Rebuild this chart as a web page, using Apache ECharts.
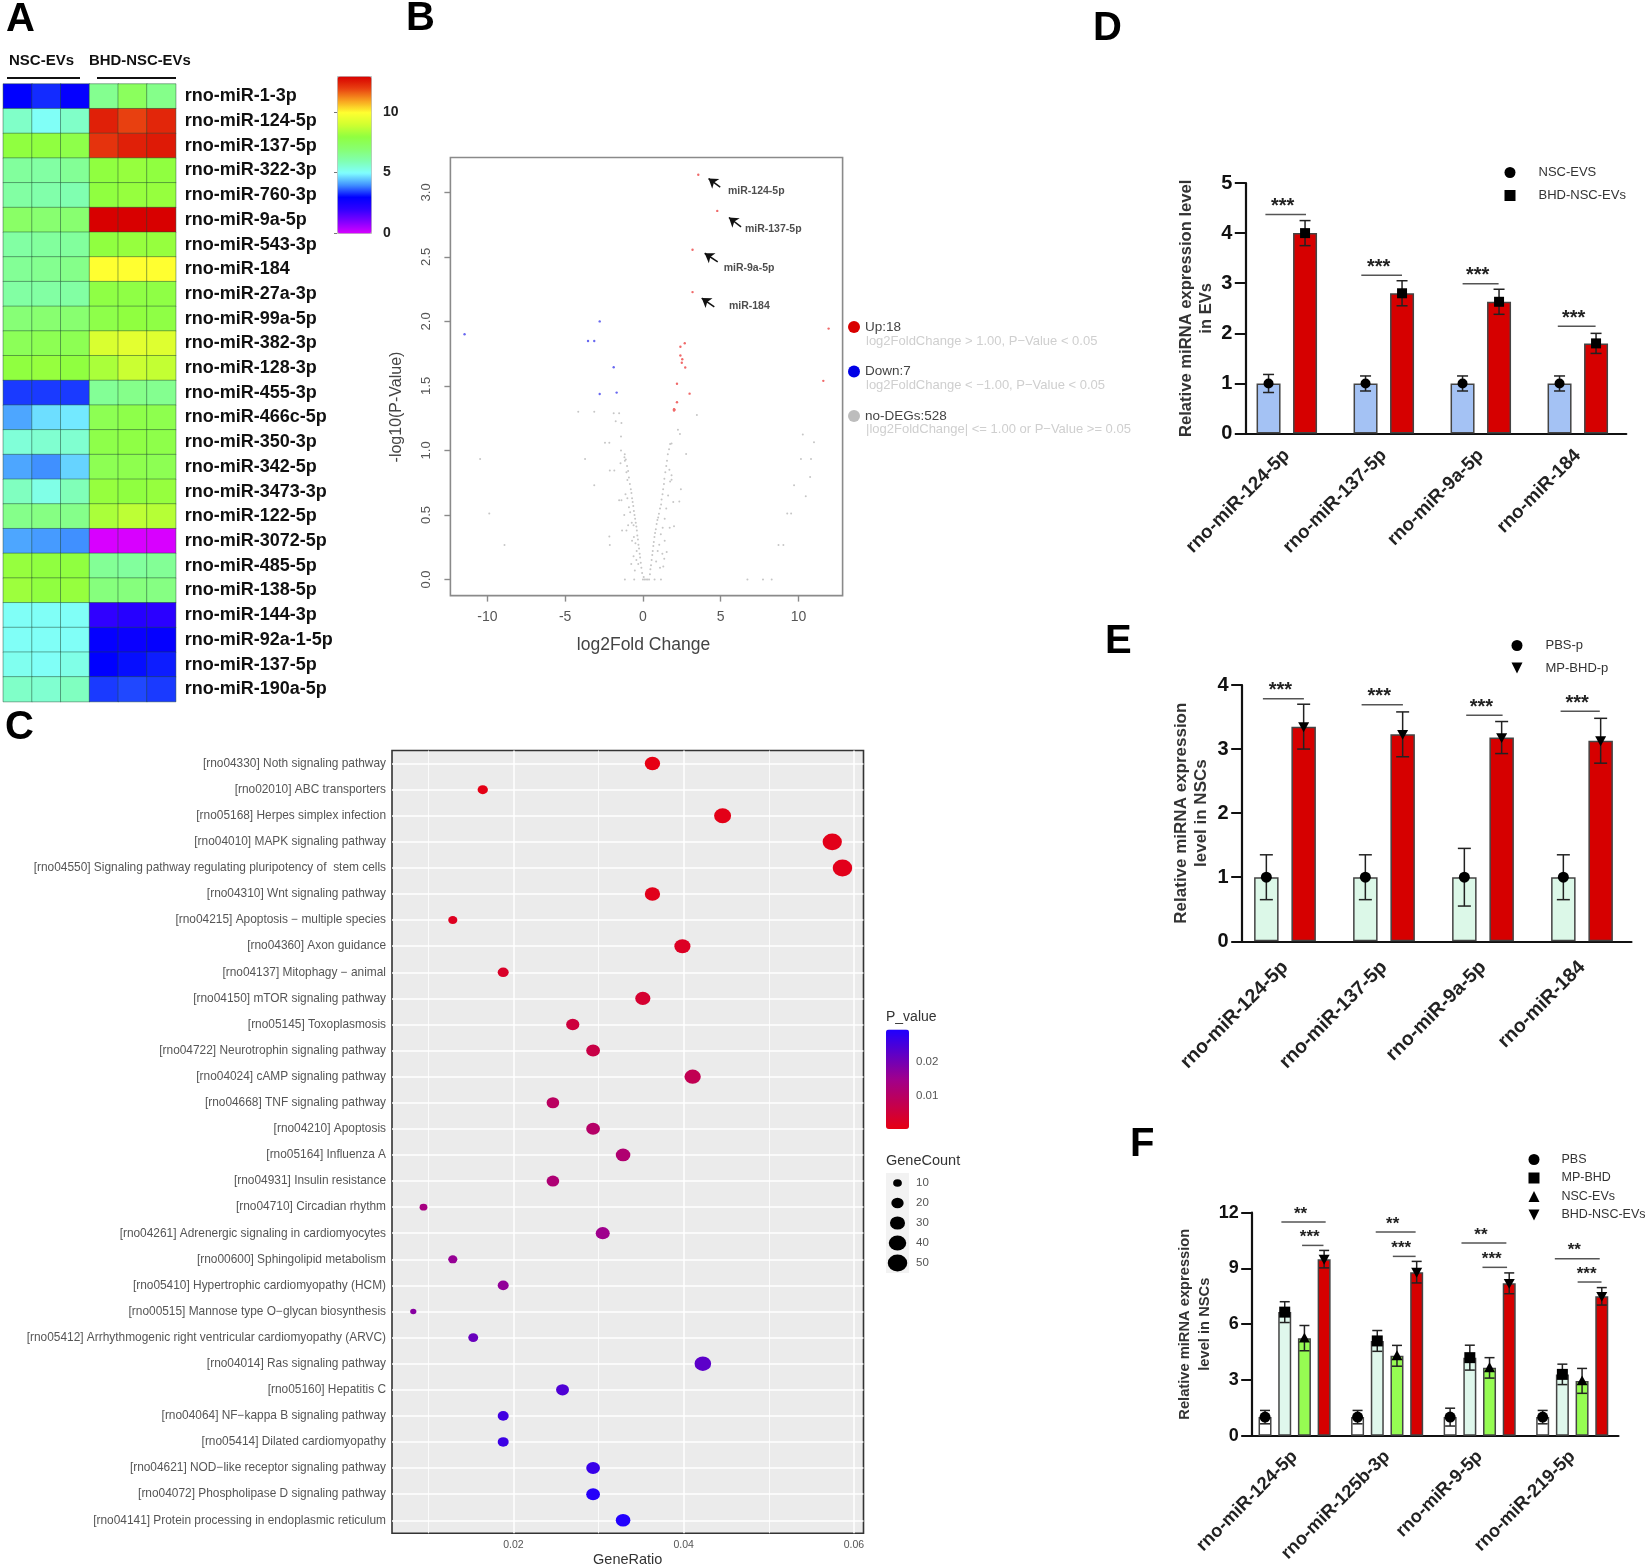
<!DOCTYPE html>
<html><head><meta charset="utf-8">
<script src="https://cdn.jsdelivr.net/npm/echarts@6/dist/echarts.min.js"></script>
<style>html,body{margin:0;padding:0;background:#fff}#c{width:1649px;height:1568px}</style>
</head><body><div id="c"></div>
<script>
/* ---------- Panel A data ---------- */
const heatRows=['rno-miR-1-3p','rno-miR-124-5p','rno-miR-137-5p','rno-miR-322-3p','rno-miR-760-3p','rno-miR-9a-5p','rno-miR-543-3p','rno-miR-184','rno-miR-27a-3p','rno-miR-99a-5p','rno-miR-382-3p','rno-miR-128-3p','rno-miR-455-3p','rno-miR-466c-5p','rno-miR-350-3p','rno-miR-342-5p','rno-miR-3473-3p','rno-miR-122-5p','rno-miR-3072-5p','rno-miR-485-5p','rno-miR-138-5p','rno-miR-144-3p','rno-miR-92a-1-5p','rno-miR-137-5p','rno-miR-190a-5p'];
const heatCols=['N1','N2','N3','B1','B2','B3'];
const heatValues=[
[3.0,3.3,2.9,6.5,7.4,6.6],[5.7,5.1,5.7,12.5,12.0,12.4],[8.0,8.0,7.8,12.2,12.5,12.6],[6.3,6.2,6.4,8.0,8.1,8.0],[6.2,6.1,6.0,8.0,8.1,8.1],
[7.2,7.0,7.0,13,13,13],[6.2,6.3,6.3,8.0,8.1,8.1],[6.4,6.5,6.6,10,10,10],[6.2,6.2,6.2,7.9,7.9,7.9],[6.9,7.0,7.0,7.8,8.0,7.9],
[7.5,7.6,7.6,9.2,9.4,9.3],[8.0,8.1,8.0,8.4,8.9,8.8],[3.4,3.4,3.4,6.4,6.6,6.5],[4.2,4.7,4.8,7.6,7.8,7.7],[5.5,5.6,5.6,7.8,7.9,7.8],
[4.2,4.0,4.6,7.6,7.7,7.6],[5.8,5.3,5.9,8.1,8.0,8.1],[6.6,6.7,6.6,8.4,8.7,8.6],[4.2,4.1,4.0,0,0,0],[8.1,8.0,8.0,6.4,6.3,6.4],
[8.2,8.0,8.1,6.8,6.8,6.7],[5.1,5.1,5.1,2.0,2.2,2.1],[5.1,5.1,5.1,2.9,2.8,2.9],[5.2,5.1,5.3,3.0,3.1,3.2],[5.7,5.6,5.8,3.4,3.5,3.4]];
const heatColors=['#d800ff','#8000ff','#3000ff','#0000ff','#4090ff','#80ffff','#80ffb0','#88ff70','#90ff40','#d0ff30','#ffff30','#f8a020','#e84010','#d80000'];

/* ---------- Panel B data ---------- */
const upPoints=[[3.56,3.136],[4.78,2.856],[3.19,2.555],[3.19,2.227],[11.94,1.944],[2.69,1.83],[2.41,1.803],[2.41,1.736],[2.53,1.707],[2.5,1.68],[2.72,1.643],[11.6,1.539],[2.19,1.517],[3.0,1.44],[2.19,1.373],[2.0,1.32],[2.03,1.315],[2.0,1.309]];
const downPoints=[[-2.78,2.0],[-11.47,1.9],[-3.53,1.848],[-3.13,1.848],[-1.88,1.645],[-1.69,1.448],[-2.78,1.437]];
const grayPoints=[[-4.16,1.3],[-3.13,1.3],[-1.88,1.288],[-1.53,1.288],[3.47,1.275],[-1.75,1.227],[-1.38,1.213],[2.25,1.16],[2.38,1.128],[-1.41,1.107],[-2.44,1.059],[-2.16,1.059],[1.84,1.053],[10.28,1.123],[11,1.064],[2.78,0.973],[-10.47,.933],[-3.72,.933],[10.16,.933],[10.81,.933],[-1.41,1.0],[-1.19,.947],[-1.16,.92],[-1.44,.9],[-2.13,.845],[-1.84,.845],[-1.06,.83],[1.84,.808],[10.75,.795],[-1.0,.77],[1.84,.773],[-3.13,.731],[9.72,.731],[2.44,.7],[10.47,.645],[-1.53,.613],[-1.38,.613],[2.34,.605],[-9.88,.512],[9.28,.512],[9.53,.512],[-1.34,.379],[-1.06,.379],[2,.413],[1.72,.4],[-2.16,.333],[-2.13,.267],[-8.9,.267],[8.72,.267],[9.03,.267],[1.31,.1],[1.37,.16],[1.53,.213],[-1.16,0],[-.56,0],[.75,0],[1.16,0],[6.72,0],[7.72,0],[8.28,0],[0,0],[.1,0],[.2,0],[.3,0],[.4,0],[.05,.02],[-.05,.05],[-.1,.09],[-.14,.13],[-.18,.17],[-.21,.2],[-.25,.24],[-.29,.27],[-.32,.31],[-.36,.34],[-.39,.38],[-.42,.41],[-.46,.44],[-.5,.47],[-.54,.5],[-.58,.53],[-.62,.57],[-.66,.6],[-.7,.63],[-.74,.67],[-.78,.7],[-.84,.74],[-.9,.79],[-.95,.84],[-1.02,.88],[-1.1,.93],[-1.17,.97],[-.6,.42],[-.72,.44],[-.82,.52],[-.9,.56],[-1.0,.63],[-1.12,.66],[-.4,.22],[-.48,.28],[-.58,.33],[-.7,.3],[-.95,.42],[-1.2,.5],[-.3,.12],[-.42,.15],[-.6,.18],[-.75,.12],[-.52,.07],[.45,.04],[.48,.08],[.52,.11],[.56,.15],[.6,.19],[.63,.22],[.67,.26],[.7,.29],[.74,.33],[.78,.36],[.83,.39],[.88,.43],[.93,.46],[.98,.48],[1.03,.51],[1.1,.55],[1.17,.58],[1.2,.62],[1.26,.66],[1.3,.7],[1.35,.74],[1.38,.78],[1.44,.83],[1.5,.88],[1.55,.92],[1.6,.97],[1.68,1.01],[1.75,1.05],[.85,.14],[.95,.22],[1.05,.27],[1.15,.35],[1.27,.4],[1.4,.47],[1.5,.55],[1.62,.65],[1.75,.76],[1.95,.6],[1.1,.09],[1.25,.2],[1.4,.3],[1.7,.85]];
const bArrows=[[[4.97,3.04],[4.22,3.107]],[[6.31,2.733],[5.53,2.805]],[[4.81,2.461],[3.97,2.528]],[[4.59,2.112],[3.78,2.181]]];
const bLabels=[['miR-124-5p',5.47,3.01],['miR-137-5p',6.56,2.715],['miR-9a-5p',5.19,2.416],['miR-184',5.53,2.12]];

/* ---------- Panel C data ---------- */
const pathways=['[rno04330] Noth signaling pathway','[rno02010] ABC transporters','[rno05168] Herpes simplex infection','[rno04010] MAPK signaling pathway','[rno04550] Signaling pathway regulating pluripotency of  stem cells','[rno04310] Wnt signaling pathway','[rno04215] Apoptosis \u2212 multiple species','[rno04360] Axon guidance','[rno04137] Mitophagy \u2212 animal','[rno04150] mTOR signaling pathway','[rno05145] Toxoplasmosis','[rno04722] Neurotrophin signaling pathway','[rno04024] cAMP signaling pathway','[rno04668] TNF signaling pathway','[rno04210] Apoptosis','[rno05164] Influenza A','[rno04931] Insulin resistance','[rno04710] Circadian rhythm','[rno04261] Adrenergic signaling in cardiomyocytes','[rno00600] Sphingolipid metabolism','[rno05410] Hypertrophic cardiomyopathy (HCM)','[rno00515] Mannose type O\u2212glycan biosynthesis','[rno05412] Arrhythmogenic right ventricular cardiomyopathy (ARVC)','[rno04014] Ras signaling pathway','[rno05160] Hepatitis C','[rno04064] NF\u2212kappa B signaling pathway','[rno05414] Dilated cardiomyopathy','[rno04621] NOD\u2212like receptor signaling pathway','[rno04072] Phospholipase D signaling pathway','[rno04141] Protein processing in endoplasmic reticulum'];
const geneRatio=[.03633,.0164,.04457,.05745,.05865,.03633,.01288,.03985,.0188,.0352,.02697,.02936,.04105,.02464,.02936,.03288,.02464,.00944,.03049,.01288,.0188,.00824,.01528,.04225,.02577,.0188,.0188,.02936,.02936,.03288];
const geneCount=[31,14,38,49,50,31,11,34,16,30,23,25,35,21,25,28,21,8,26,11,16,5,13,36,22,16,16,25,25,28];
const pValue=[.0005,.0008,.001,.0012,.0013,.0015,.002,.0025,.003,.004,.0055,.0065,.008,.0095,.0105,.0115,.012,.0135,.015,.016,.0165,.0175,.021,.0225,.024,.0255,.026,.0265,.0285,.029];
const geneCountLegend=[10,20,30,40,50];

/* ---------- Panel D data ---------- */
const dCats=['rno-miR-124-5p','rno-miR-137-5p','rno-miR-9a-5p','rno-miR-184'];
const dNSC=[1,1,1,1], dNSCErr=[.18,.15,.15,.15];
const dBHD=[4.0,2.8,2.63,1.8], dBHDErr=[.25,.25,.25,.2];
const dSigY=[4.37,3.16,2.99,2.14];
/* ---------- Panel E data ---------- */
const eCats=['rno-miR-124-5p','rno-miR-137-5p','rno-miR-9a-5p','rno-miR-184'];
const ePBS=[1,1,1,1], ePBSErr=[.35,.35,.45,.35];
const eMP=[3.35,3.23,3.18,3.13], eMPErr=[.35,.35,.25,.35];
const eSigY=[3.786,3.69,3.526,3.59];
/* ---------- Panel F data ---------- */
const fCats=['rno-miR-124-5p','rno-miR-125b-3p','rno-miR-9-5p','rno-miR-219-5p'];
const fPBS=[1,1,1,1], fPBSErr=[.36,.36,.48,.36];
const fMP=[6.65,5.1,4.2,3.3], fMPErr=[.56,.56,.67,.55];
const fNSC=[5.25,4.3,3.65,2.95], fNSCErr=[.68,.56,.55,.67];
const fBHD=[9.5,8.8,8.2,7.5], fBHDErr=[.47,.58,.56,.47];
const fSigTopY=[11.5,10.96,10.37,9.52], fSigLowY=[10.24,9.65,9.06,8.27];

/* ---------- layout of significance brackets (pixels from tick) ---------- */
const dSpan=[[-21.4,19.2],[-22.5,18.2],[-18.2,17.8],[-20,17.8]];
const eSpan=[[-22.1,18.9],[-22.4,18.9],[-16.8,19.6],[-21.4,17.8]];
const fSpanTop=[[-13.2,31.1],[-11.4,28.5],[-18.2,26.7],[-17.4,27.5]];
const fSpanLow=[[7.5,28.9],[5.7,28.5],[2.8,27.4],[5.4,29.3]];

const FONT='"Liberation Sans", Arial, sans-serif';
const opt={animation:false,backgroundColor:'#fff',textStyle:{fontFamily:FONT},
  grid:[],xAxis:[],yAxis:[],series:[],visualMap:[],legend:[],graphic:{elements:[]}};
const G=opt.graphic.elements;
function addGrid(g,x,y){const i=opt.grid.length;opt.grid.push(Object.assign({outerBoundsMode:'none',containLabel:false},g));
  opt.xAxis.push(Object.assign({gridIndex:i},x));opt.yAxis.push(Object.assign({gridIndex:i},y));return i;}
function txt(text,x,y,font,fill,extra){G.push(Object.assign({type:'text',x,y,silent:true,style:{text,font:font+' '+FONT,fill,align:(extra&&extra.align)||'left',verticalAlign:'middle'}},extra&&extra.rotation!=null?{rotation:extra.rotation}:{}));}
function ln(x1,y1,x2,y2,stroke,w){G.push({type:'line',silent:true,shape:{x1,y1,x2,y2},style:{stroke,lineWidth:w}});}

/* panel letters */
txt('A',6,20,'bold 40px','#000');txt('B',406,19,'bold 40px','#000');txt('C',5,728,'bold 40px','#000');
txt('D',1093,29,'bold 40px','#000');txt('E',1105,642,'bold 40px','#000');txt('F',1130,1145,'bold 40px','#000');

/* ---------- A ---------- */
txt('NSC-EVs',9,61,'bold 15px','#111');txt('BHD-NSC-EVs',89,61,'bold 14.9px','#111');
ln(7,78,80,78,'#111',2);ln(97,78,176,78,'#111',2);
let a=addGrid({left:3.3,top:84,width:172.4,height:617.6},
 {type:'category',data:heatCols,show:false},
 {type:'category',data:heatRows,inverse:true,position:'right',axisLine:{show:false},
  axisTick:{alignWithLabel:true,length:4,lineStyle:{color:'#888'}},
  axisLabel:{interval:0,margin:9,fontWeight:'bold',fontSize:18,color:'#111'}});
const heatData=[];heatValues.forEach((r,ri)=>r.forEach((v,ci)=>heatData.push([ci,ri,v])));
opt.series.push({type:'heatmap',name:'expr',xAxisIndex:a,yAxisIndex:a,data:heatData,silent:true,
  itemStyle:{borderColor:'rgba(30,70,50,0.45)',borderWidth:1}});
opt.visualMap.push({type:'continuous',seriesIndex:opt.series.length-1,min:0,max:13,left:337,top:76,itemWidth:34,itemHeight:157,padding:0,
  calculable:false,hoverLink:false,inRange:{color:heatColors},borderColor:'#bbb',borderWidth:1,textStyle:{fontSize:0},text:null,realtime:false});
const heatTicks=[0,5,10];
addGrid({left:337,top:76,width:34,height:157},{type:'value',min:0,max:1,show:false},
 {type:'value',min:0,max:13,position:'right',axisLine:{show:false},splitLine:{show:false},
  axisTick:{inside:true,length:3,customValues:heatTicks,lineStyle:{color:'#777'}},axisLabel:{customValues:heatTicks,margin:12,fontWeight:'bold',fontSize:14,color:'#222'}});

/* ---------- B ---------- */
const bx=[-10,-5,0,5,10], by=[0,.5,1,1.5,2,2.5,3];
let b=addGrid({left:450.4,top:157.5,width:392.2,height:438.1,show:true,borderColor:'#8a8a8a',borderWidth:1.6,backgroundColor:'transparent'},
 {type:'value',min:-12.38,max:12.84,axisLine:{show:false,onZero:false},splitLine:{show:false},
  axisTick:{length:6,customValues:bx,lineStyle:{color:'#8a8a8a',width:1.4}},
  axisLabel:{customValues:bx,margin:15,fontSize:14,color:'#555'},
  name:'log2Fold Change',nameLocation:'middle',nameGap:41,nameTextStyle:{fontSize:17.5,color:'#444',padding:[0,6,0,0]}},
 {type:'value',min:-.125,max:3.27,axisLine:{show:false,onZero:false},splitLine:{show:false},
  axisTick:{length:6,customValues:by,lineStyle:{color:'#8a8a8a',width:1.4}},
  axisLabel:{customValues:by,rotate:90,margin:17,fontSize:13,color:'#555',formatter:v=>v.toFixed(1)}});
opt.series.push({type:'scatter',name:'no-DEGs:528',xAxisIndex:b,yAxisIndex:b,data:grayPoints,symbolSize:2,itemStyle:{color:'#c6c6c6',opacity:1},silent:true});
opt.series.push({type:'scatter',name:'Up:18',xAxisIndex:b,yAxisIndex:b,data:upPoints,symbolSize:2.4,itemStyle:{color:'#f06a6a',opacity:1},silent:true});
opt.series.push({type:'scatter',name:'Down:7',xAxisIndex:b,yAxisIndex:b,data:downPoints,symbolSize:2.4,itemStyle:{color:'#6868f0',opacity:1},silent:true});
opt.series.push({type:'scatter',name:'labels',xAxisIndex:b,yAxisIndex:b,silent:true,symbolSize:0,
  data:bLabels.map(l=>({name:l[0],value:[l[1],l[2]]})),
  label:{show:true,position:'right',distance:0,formatter:'{b}',fontSize:10.5,fontWeight:'bold',color:'#222'},
  markLine:{silent:true,symbol:['none','arrow'],symbolSize:9,animation:false,label:{show:false},lineStyle:{color:'#111',width:1.5,type:'solid'},
    data:bArrows.map(p=>[{coord:p[0]},{coord:p[1]}])}});
opt.legend.push({left:848,top:320,orient:'vertical',padding:0,itemWidth:12,itemHeight:12,itemGap:30.5,selectedMode:false,
  textStyle:{fontSize:13.5,color:'#444'},
  data:[{name:'Up:18',icon:'circle',itemStyle:{color:'#d90000',opacity:1}},{name:'Down:7',icon:'circle',itemStyle:{color:'#0000e6',opacity:1}},{name:'no-DEGs:528',icon:'circle',itemStyle:{color:'#bdbdbd',opacity:1}}]});
txt('log2FoldChange > 1.00, P\u2212Value < 0.05',866,341,'13px','#cfcfcf');
txt('log2FoldChange < \u22121.00, P\u2212Value < 0.05',866,385,'13px','#cfcfcf');
txt('|log2FoldChange| <= 1.00 or P\u2212Value >= 0.05',866,429,'13px','#cfcfcf');
txt('-log10(P-Value)',396.5,407,'16px','#444',{align:'center',rotation:Math.PI/2});

/* ---------- C ---------- */
const cMajor=[.02,.04,.06], cMinor=[.01,.03,.05];
let c=addGrid({left:392,top:750.5,width:471.5,height:782.8,show:true,backgroundColor:'#ebebeb',borderColor:'#333',borderWidth:1.6},
 {type:'value',min:.00574,max:.06112,axisLine:{show:false},
  axisTick:{customValues:cMajor,length:3,lineStyle:{color:'#333'}},
  splitLine:{show:true,lineStyle:{color:'#fff',width:1.5}},
  axisLabel:{customValues:cMajor,margin:6,fontSize:10.5,color:'#555'},
  name:'GeneRatio',nameLocation:'middle',nameGap:19,nameTextStyle:{fontSize:14.5,color:'#333'}},
 {type:'category',data:pathways,inverse:true,axisLine:{show:false},
  axisTick:{alignWithLabel:true,length:4,lineStyle:{color:'#333'}},
  splitLine:{show:true,alignWithLabel:true,interval:0,lineStyle:{color:'#fff',width:1.5}},
  axisLabel:{interval:0,margin:6,fontSize:11.9,color:'#555'}});
const dotSize=n=>{const w=2.76*Math.sqrt(n);return [w,w*0.87];};
opt.series.push({type:'scatter',name:'GeneRatio',xAxisIndex:c,yAxisIndex:c,silent:true,
  data:geneRatio.map((r,i)=>[r,i,geneCount[i],pValue[i]]),symbolSize:v=>dotSize(v[2]),itemStyle:{opacity:1},z:5});
opt.visualMap.push({type:'continuous',seriesIndex:opt.series.length-1,dimension:3,min:.0004,max:.0293,left:886,top:1029.5,itemWidth:23,itemHeight:99.5,padding:0,
  calculable:false,hoverLink:false,inRange:{color:['#e60012','#a0008c','#1f00ff']},text:null,textStyle:{fontSize:0}});
addGrid({left:886,top:1029.5,width:23,height:99.5},{type:'value',min:0,max:1,show:false},
 {type:'value',min:.0004,max:.0293,position:'right',axisLine:{show:false},splitLine:{show:false},
  axisTick:{inside:true,length:5,customValues:[.01,.02],lineStyle:{color:'rgba(255,255,255,.6)'}},
  axisLabel:{customValues:[.01,.02],margin:7,fontSize:11.5,color:'#555',inside:false}});
txt('P_value',886,1017,'14px','#333');txt('GeneCount',886,1161,'14.5px','#333');
let gc=addGrid({left:886,top:1173,width:23,height:100,show:true,backgroundColor:'#f2f2f2',borderWidth:0},
 {type:'value',min:-1,max:1,show:false},
 {type:'category',data:geneCountLegend.map(String),inverse:true,position:'right',axisLine:{show:false},axisTick:{show:false},
  axisLabel:{interval:0,margin:7,fontSize:11.5,color:'#555'}});
opt.series.push({type:'scatter',name:'GeneCount',xAxisIndex:gc,yAxisIndex:gc,silent:true,
  data:geneCountLegend.map((n,i)=>[0,i,n]),symbolSize:v=>dotSize(v[2]),itemStyle:{color:'#000',opacity:1}});

/* ---------- D / E / F bars ---------- */
const DOWN='path://M0,0 L10,0 L5,10 Z', UP='path://M5,0 L10,10 L0,10 Z';
function marker(kind,x,y,r){
  if(kind==='circle')return {type:'circle',shape:{cx:x,cy:y,r},style:{fill:'#000'}};
  if(kind==='rect')return {type:'rect',shape:{x:x-r,y:y-r,width:2*r,height:2*r},style:{fill:'#000'}};
  if(kind==='up')return {type:'polygon',shape:{points:[[x,y-r],[x+r,y+r*.8],[x-r,y+r*.8]]},style:{fill:'#000'}};
  return {type:'polygon',shape:{points:[[x-r,y-r*.8],[x+r,y-r*.8],[x,y+r]]},style:{fill:'#000'}};
}
function errRender(pos,cap,kind,r){
  return (p,api)=>{
    const cat=api.value(0),v=api.value(1),e=api.value(2);
    const pt=api.coord([cat,v]),hi=api.coord([cat,v+e])[1],lo=api.coord([cat,v-e])[1],x=pt[0]+pos;
    const st={stroke:'#222',lineWidth:1.5};
    return {type:'group',children:[
      {type:'line',shape:{x1:x,y1:hi,x2:x,y2:lo},style:st},
      {type:'line',shape:{x1:x-cap/2,y1:hi,x2:x+cap/2,y2:hi},style:st},
      {type:'line',shape:{x1:x-cap/2,y1:lo,x2:x+cap/2,y2:lo},style:st},
      marker(kind,x,pt[1],r)]};
  };
}
function sigRender(spans,stars,font){
  return (p,api)=>{
    const cat=api.value(0),pt=api.coord([cat,api.value(1)]),s=spans[p.dataIndex];
    const x0=pt[0]+s[0],x1=pt[0]+s[1];
    return {type:'group',children:[
      {type:'line',shape:{x1:x0,y1:pt[1],x2:x1,y2:pt[1]},style:{stroke:'#555',lineWidth:1.5}},
      {type:'text',x:(x0+x1)/2-3,y:pt[1]-8,style:{text:stars,font:'bold '+font+'px '+FONT,fill:'#222',align:'center',verticalAlign:'middle'}}]};
  };
}
function barPanel(cfg){
  const n=cfg.series.length,pitch=cfg.barW+cfg.gap;
  const i=addGrid({left:cfg.left,top:cfg.top,width:cfg.width,height:cfg.height},
   {type:'category',data:cfg.cats,axisLine:{lineStyle:{color:'#111',width:2.2}},
    axisTick:{alignWithLabel:true,length:10,lineStyle:{color:'#111',width:2}},
    axisLabel:{interval:0,rotate:45,margin:cfg.xMargin,fontSize:cfg.xFont,fontWeight:'bold',color:'#222'}},
   {type:'value',min:0,max:cfg.max,interval:cfg.interval,offset:cfg.yOffset,splitLine:{show:false},
    axisLine:{show:true,onZero:false,lineStyle:{color:'#111',width:2.2}},
    axisTick:{show:true,length:11,lineStyle:{color:'#111',width:2}},
    axisLabel:{margin:13.5,fontSize:cfg.yFont,fontWeight:'bold',color:'#111'},
    name:cfg.yName,nameLocation:'middle',nameRotate:90,nameGap:cfg.nameGap,
    nameTextStyle:{fontSize:cfg.nameFont,fontWeight:'bold',color:'#333',lineHeight:cfg.nameLH}});
  cfg.series.forEach((s,k)=>{
    opt.series.push({type:'bar',name:s.name+' bar',xAxisIndex:i,yAxisIndex:i,data:s.vals,barWidth:cfg.barW,barGap:(cfg.gap/cfg.barW*100)+'%',silent:true,
      itemStyle:{color:s.color,borderColor:'#444',borderWidth:1.5}});
  });
  cfg.series.forEach((s,k)=>{
    opt.series.push({type:'custom',name:s.name,xAxisIndex:i,yAxisIndex:i,silent:true,clip:false,z:4,itemStyle:{color:'#000'},
      encode:{x:0,y:1},data:s.vals.map((v,c)=>[c,v,s.errs[c]]),
      renderItem:errRender((k-(n-1)/2)*pitch,cfg.cap,s.kind,cfg.r)});
  });
  cfg.sig.forEach(g=>{
    opt.series.push({type:'custom',name:g.stars+' sig',xAxisIndex:i,yAxisIndex:i,silent:true,clip:false,z:4,encode:{x:0,y:1},
      data:g.ys.map((y,c)=>[c,y]),renderItem:sigRender(g.spans,g.stars,cfg.starFont)});
  });
  const iconOf={circle:'circle',rect:'rect',up:UP,down:DOWN};
  opt.legend.push({left:cfg.legX,top:cfg.legY,orient:'vertical',padding:0,itemWidth:11,itemHeight:11,itemGap:cfg.legGap,selectedMode:false,
    textStyle:{fontSize:cfg.legFont,color:'#333',padding:[0,0,0,cfg.legPad]},
    data:cfg.series.map(s=>({name:s.name,icon:iconOf[s.kind],itemStyle:{color:'#000'}}))});
}
barPanel({left:1238.3,top:183,width:388,height:250.6,yOffset:-7.5,cats:dCats,max:5,interval:1,barW:24,gap:12.5,cap:11,r:5,xFont:18.8,xMargin:19,yFont:20,
  yName:'Relative miRNA expression level\nin EVs',nameGap:29,nameFont:16.6,nameLH:20,starFont:20,
  series:[{name:'NSC-EVS',vals:dNSC,errs:dNSCErr,color:'#a4c2f4',kind:'circle'},{name:'BHD-NSC-EVs',vals:dBHD,errs:dBHDErr,color:'#d60000',kind:'rect'}],
  sig:[{ys:dSigY,spans:dSpan,stars:'***'}],legX:1504.5,legY:166,legGap:10,legFont:13,legPad:18});
barPanel({left:1235.5,top:685,width:396,height:256.3,yOffset:-6.7,cats:eCats,max:4,interval:1,barW:24.5,gap:12.8,cap:13,r:5.5,xFont:19.5,xMargin:23,yFont:20,
  yName:'Relative miRNA expression\nlevel in NSCs',nameGap:31,nameFont:17,nameLH:20,starFont:20,
  series:[{name:'PBS-p',vals:ePBS,errs:ePBSErr,color:'#dcf8e8',kind:'circle'},{name:'MP-BHD-p',vals:eMP,errs:eMPErr,color:'#d60000',kind:'down'}],
  sig:[{ys:eSigY,spans:eSpan,stars:'***'}],legX:1511.5,legY:639,legGap:9.5,legFont:13,legPad:18});
barPanel({left:1248.3,top:1212.7,width:370.2,height:223,yOffset:-3.9,cats:fCats,max:12,interval:3,barW:13,gap:6.7,cap:10,r:5.5,xFont:18.3,xMargin:18,yFont:18,
  yName:'Relative miRNA expression\nlevel in NSCs',nameGap:37,nameFont:14.7,nameLH:20,starFont:17,
  series:[{name:'PBS',vals:fPBS,errs:fPBSErr,color:'#ffffff',kind:'circle'},{name:'MP-BHD',vals:fMP,errs:fMPErr,color:'#dff7ec',kind:'rect'},
          {name:'NSC-EVs',vals:fNSC,errs:fNSCErr,color:'#96fc52',kind:'up'},{name:'BHD-NSC-EVs ',vals:fBHD,errs:fBHDErr,color:'#d60000',kind:'down'}],
  sig:[{ys:fSigTopY,spans:fSpanTop,stars:'**'},{ys:fSigLowY,spans:fSpanLow,stars:'***'}],legX:1528.5,legY:1153,legGap:5.5,legFont:12.5,legPad:17});

/* minor white grid lines of panel C: extra axis pushed last so grid and axis indexes stay aligned */
opt.xAxis.push({gridIndex:c,type:'value',position:'top',min:.00574,max:.06112,axisLine:{show:false},
  axisLabel:{show:false,customValues:cMinor},axisTick:{show:false,customValues:cMinor},splitLine:{show:true,lineStyle:{color:'#fff',width:.8}}});

echarts.init(document.getElementById('c'),null,{renderer:'canvas'}).setOption(opt);
</script></body></html>
